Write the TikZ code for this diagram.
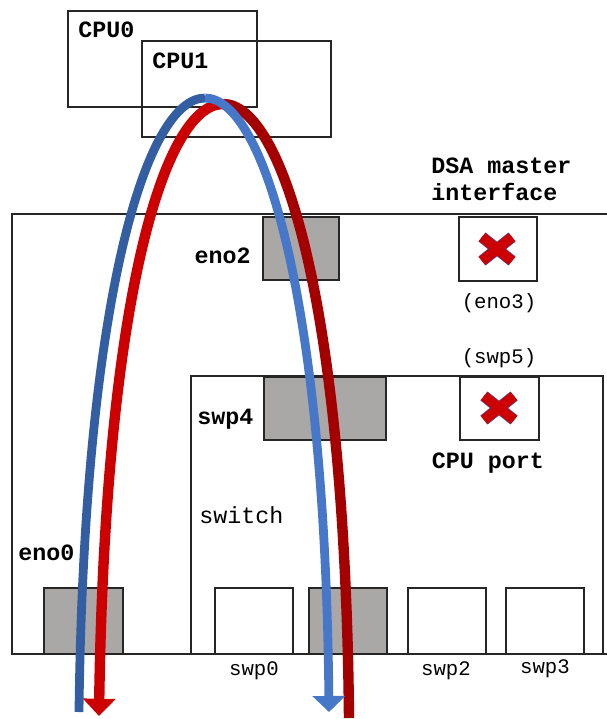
\documentclass[tikz,border=0pt]{standalone}
\usepackage{fontspec}
\setmonofont{Liberation Mono}
\usepackage{xcolor}
\usetikzlibrary{arrows.meta}
\definecolor{portgray}{HTML}{AAA7A7}
\definecolor{arcblue}{HTML}{4677C8}
\definecolor{arcbluedark}{HTML}{345EA2}
\definecolor{arcred}{HTML}{CC0000}
\definecolor{arcreddark}{HTML}{A50000}
\definecolor{xedge}{HTML}{4B4B9B}

\begin{document}
\begin{tikzpicture}[x=0.75pt, y=-0.75pt,
    box/.style={draw=black!85, line width=1.3pt},
    lbl/.style={font=\ttfamily\bfseries\fontsize{17.5}{20}\selectfont, inner sep=0pt},
    plain/.style={font=\ttfamily\fontsize{17.5}{20}\selectfont, inner sep=0pt},
    sub/.style={font=\ttfamily\fontsize{15.5}{18}\selectfont, inner sep=0pt},
    xline/.style={line width=7.6pt, arcred},
    xrim/.style={line width=8.6pt, xedge}]
    \useasboundingbox (0,0) rectangle (607,719);

    % CPU boxes
    \draw[box] (68,11) rectangle (257,107);
    \draw[box] (142,41) rectangle (331,137);
    \node[lbl, anchor=base west] (cpu0) at (78,37) {CPU0};
    \node[lbl, anchor=base west] (cpu1) at (152,68) {CPU1};

    % Host and switch outlines
    \draw[box] (608,214) -- (12,214) -- (12,654) -- (608,654);
    \draw[box] (191,376) rectangle (603,654);

    % Host ports
    \draw[box, fill=portgray] (263,217) rectangle (339,280);
    \draw[box] (459,217) rectangle (537,281);
    \draw[box, fill=portgray] (44,588) rectangle (123,654);

    % Switch ports
    \draw[box, fill=portgray] (264,377) rectangle (386,440);
    \draw[box] (460,377) rectangle (539,440);
    \foreach \x/\f in {215/white, 309/portgray, 408/white, 506/white}
        \draw[box, fill=\f] (\x,588) rectangle +(78,66);

    % Disabled ports
    \foreach \c in {(497,249), (499,408)} {
        \draw[xrim] \c ++(-15,-12) -- ++(30,24);
        \draw[xrim] \c ++(-15,12) -- ++(30,-24);
        \draw[xline] \c ++(-15,-12) -- ++(30,24);
        \draw[xline] \c ++(-15,12) -- ++(30,-24);
    }

    % Labels
    \node[lbl, anchor=base west, align=left] (dsa) at (431,200) {DSA master\\interface};
    \node[lbl, anchor=base east] (eno2) at (251,263) {eno2};
    \node[sub, anchor=base] (eno3) at (499,308) {(eno3)};
    \node[sub, anchor=base] (swp5) at (499,363) {(swp5)};
    \node[lbl, anchor=base west] (swp4) at (197,424) {swp4};
    \node[lbl, anchor=base] (cpuport) at (488,468) {CPU port};
    \node[plain, anchor=base west] (switch) at (199,523) {switch};
    \node[lbl, anchor=base west] (eno0) at (18,560) {eno0};
    \node[sub, anchor=base] (swp0) at (254,675) {swp0};
    \node[sub, anchor=base] (swp2) at (446,675) {swp2};
    \node[sub, anchor=base] (swp3) at (545,673) {swp3};

    % Frame paths
    \coordinate (bluein) at (79,712);
    \coordinate (bluetop) at (205,98);
    \coordinate (blueout) at (329,712);
    \coordinate (redin) at (349,718);
    \coordinate (redtop) at (223,104);
    \coordinate (redout) at (99,716);

    \draw[arcreddark, line width=7.8pt]
        (redin) .. controls (345,300) and (282,104) .. (redtop);
    \draw[arcred, line width=7.8pt, -{Triangle[width=24pt, length=13pt]}]
        (redtop) .. controls (164,104) and (105,300) .. (redout);
    \draw[arcbluedark, line width=6.6pt]
        (bluein) .. controls (84,300) and (146,98) .. (bluetop);
    \draw[arcblue, line width=6.6pt, -{Triangle[width=24pt, length=12pt]}]
        (bluetop) .. controls (264,98) and (325,300) .. (blueout);
\end{tikzpicture}
\end{document}
